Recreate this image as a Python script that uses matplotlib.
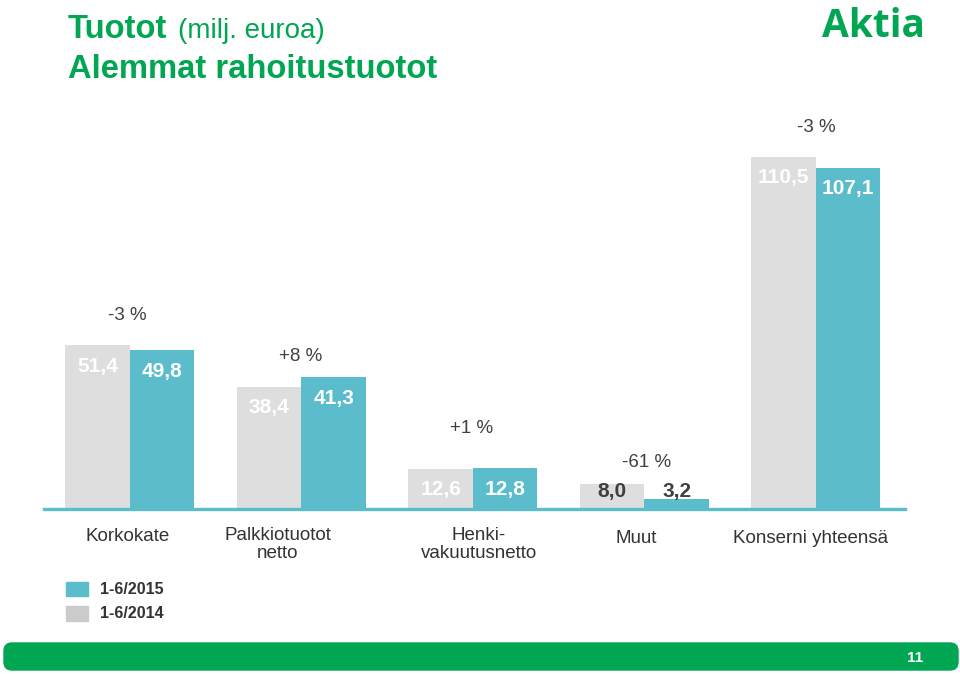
import numpy as np
import matplotlib.pyplot as plt
from matplotlib.patches import Rectangle, FancyBboxPatch

plt.rcParams['font.family'] = ['Liberation Sans', 'DejaVu Sans']

# 数据
categories = ['Korkokate', 'Palkkiotuotot\nnetto', 'Henki-\nvakuutusnetto', 'Muut', 'Konserni yhteensä']
v2014 = [51.4, 38.4, 12.6, 8.0, 110.5]
v2015 = [49.8, 41.3, 12.8, 3.2, 107.1]
changes = ['-3 %', '+8 %', '+1 %', '-61 %', '-3 %']
legend_labels = ['1-6/2015', '1-6/2014']
page_no = '11'

# 颜色
green = '#00A651'
teal = '#5BBCCB'
grey = '#DEDEDE'
grey_leg = '#CBCBCB'
dark = '#404040'

# 版面微调 (像素)
cat_dx = [-2, -24, 6, -8, -5]
cat_dy = [-19, -18, -18, -21, -21]
pct_dx = [-3, -1, -1, 2, 0]
pct_dy = [30, 21, 40, 21, 29]

fig = plt.figure(figsize=(9.6, 6.74), dpi=100)
ax = fig.add_axes([44 / 960, 165 / 674, 861 / 960, 366.4 / 674])

x = np.arange(len(categories))
w = 0.376
ax.bar(x - w / 2, v2014, w, color=grey)
ax.bar(x + w / 2, v2015, w, color=teal)
ax.axhline(0, color=teal, lw=2.4, clip_on=False)

ax.set_xlim(-0.501, 4.519)
ax.set_ylim(0, 115)
ax.axis('off')

# 柱内数值
for xs, vals in [(x - w / 2, v2014), (x + w / 2, v2015)]:
    for xi, v in zip(xs, vals):
        lab = '{:.1f}'.format(v).replace('.', ',')
        if v < 10:
            ax.annotate(lab, xy=(xi, 0), xytext=(0, 17), textcoords='offset pixels',
                        ha='center', va='center', fontsize=15, fontweight='bold', color=dark)
        else:
            ax.annotate(lab, xy=(xi, v), xytext=(0, -21), textcoords='offset pixels',
                        ha='center', va='center', fontsize=15, fontweight='bold', color='white')

# 变化百分比
for i, c in enumerate(changes):
    top = max(v2014[i], v2015[i])
    ax.annotate(c, xy=(x[i], top), xytext=(pct_dx[i], pct_dy[i]), textcoords='offset pixels',
                ha='center', va='center', fontsize=13.5, color=dark)

# 类别标签
for i, c in enumerate(categories):
    ax.annotate(c, xy=(x[i], 0), xytext=(cat_dx[i], cat_dy[i]), textcoords='offset pixels',
                ha='center', va='top', fontsize=13.5, color='#333333', linespacing=1.1)

# 标题
t1 = fig.text(68 / 960, 1 - 38 / 674, 'Tuotot', fontsize=23.6, fontweight='bold', color=green,
              va='baseline')
fig.canvas.draw()
bb = t1.get_window_extent()
fig.text((bb.x1 + 11) / 960, 1 - 38 / 674, '(milj. euroa)', fontsize=20, color=green, va='baseline')
fig.text(68 / 960, 1 - 78 / 674, 'Alemmat rahoitustuotot', fontsize=23.6, fontweight='bold',
         color=green, va='baseline')
fig.text(925 / 960, 1 - 37 / 674, 'Aktia', fontsize=28, fontweight='bold', color=green,
         ha='right', va='baseline', family=['Open Sans', 'DejaVu Sans'])

# 图例
fig.patches.append(Rectangle((0.66, 0.78), 0.22, 0.14, color=teal, transform=fig.dpi_scale_trans))
fig.patches.append(Rectangle((0.66, 0.53), 0.22, 0.15, color=grey_leg, transform=fig.dpi_scale_trans))
fig.text(1.0, 0.85, legend_labels[0], fontsize=11.5, fontweight='bold', color='#333333', va='center',
         transform=fig.dpi_scale_trans)
fig.text(1.0, 0.60, legend_labels[1], fontsize=11.5, fontweight='bold', color='#333333', va='center',
         transform=fig.dpi_scale_trans)

# 底部绿条
fig.patches.append(FancyBboxPatch((0.04, 0.04), 9.54, 0.27, boxstyle='round,pad=0,rounding_size=0.08',
                                  color=green, transform=fig.dpi_scale_trans))
fig.text(9.15, 0.165, page_no, fontsize=11, fontweight='bold', color='white', ha='center', va='center',
         transform=fig.dpi_scale_trans)

plt.savefig('out.png', dpi=100)
